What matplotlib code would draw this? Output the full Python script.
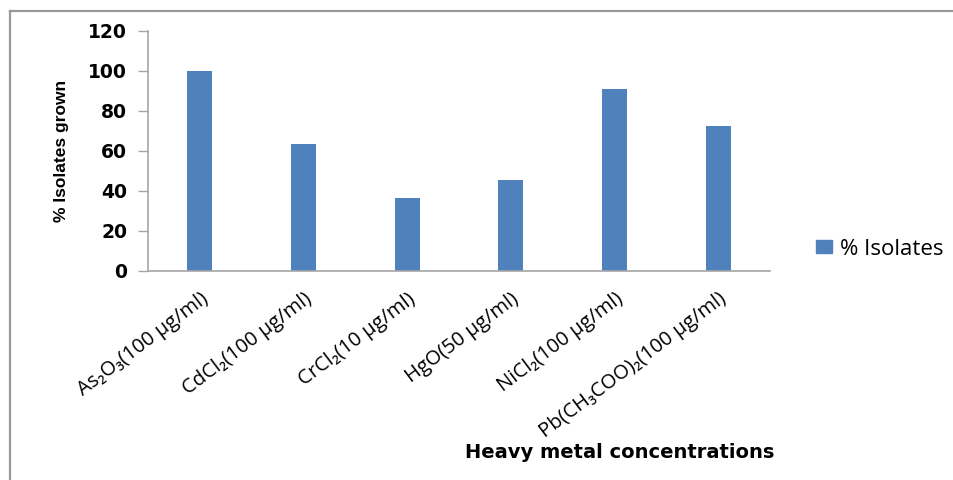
import matplotlib.pyplot as plt
from matplotlib.lines import Line2D
from matplotlib.patches import Patch

# percentage of isolates that grew on each heavy metal
metals = ["As₂O₃(100 µg/ml)", "CdCl₂(100 µg/ml)", "CrCl₂(10 µg/ml)",
          "HgO(50 µg/ml)", "NiCl₂(100 µg/ml)", "Pb(CH₃COO)₂(100 µg/ml)"]
isolates_pct = [100, 63.6, 36.4, 45.5, 90.9, 72.7]
yticks = [0, 20, 40, 60, 80, 100, 120]

bar_color = "#4F81BD"
axis_gray = "#A6A6A6"
label_fonts = ["Open Sans", "DejaVu Sans"]

fig = plt.figure(figsize=(9.54, 4.8), dpi=100)
ax = fig.add_axes([148 / 954, 209 / 480, 622 / 954, 240 / 480])

x = range(len(metals))
ax.bar(x, isolates_pct, width=0.24, color=bar_color, label="% Isolates")

ax.set_xlim(-0.5, len(metals) - 0.5)
ax.set_ylim(0, 120)
ax.set_yticks(yticks)
ax.set_yticklabels([str(v) for v in yticks], fontsize=13.5, fontweight="bold",
                   family="DejaVu Sans")
ax.tick_params(axis="y", direction="out", length=7, width=1, color=axis_gray, pad=8)
ax.tick_params(axis="x", length=0, pad=13)
ax.set_xticks(list(x))
ax.set_xticklabels(metals, rotation=37, ha="right", va="top", rotation_mode="anchor",
                   fontsize=14.5, family=label_fonts)

for side in ["top", "right"]:
    ax.spines[side].set_visible(False)
for side in ["left", "bottom"]:
    ax.spines[side].set_color(axis_gray)
    ax.spines[side].set_linewidth(1.2)

ax.set_ylabel("% Isolates grown", fontsize=12.5, fontweight="bold",
              family="Liberation Sans", labelpad=14)

fig.text(620 / 954, 1 - 453 / 480, "Heavy metal concentrations", ha="center", va="center",
         fontsize=14, fontweight="bold", family="DejaVu Sans")

leg = fig.legend(handles=[Patch(color=bar_color, label="% Isolates")],
                 loc="center left", bbox_to_anchor=(796 / 954, 1 - 249 / 480),
                 frameon=False, handlelength=0.7, handleheight=0.55, handletextpad=0.4,
                 prop={"family": label_fonts, "size": 16})

# partial frame along the top and left edges
fig.add_artist(Line2D([10 / 954, 1], [1 - 11 / 480, 1 - 11 / 480], color="#999999",
                      lw=1.6, transform=fig.transFigure))
fig.add_artist(Line2D([10 / 954, 10 / 954], [0, 1 - 11 / 480], color="#999999",
                      lw=1.6, transform=fig.transFigure))

fig.savefig("out.png", dpi=100)
